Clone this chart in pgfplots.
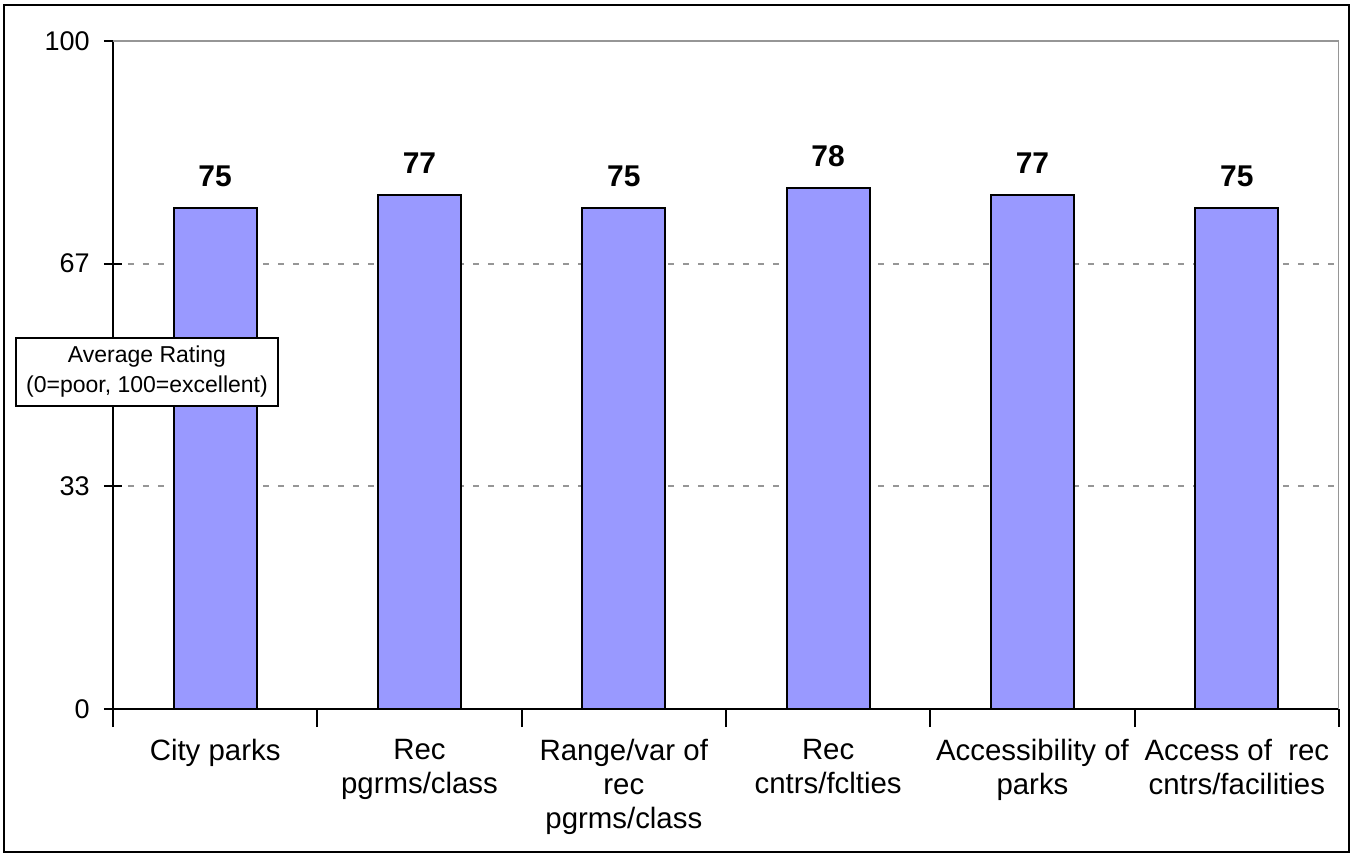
\documentclass[border=0pt]{standalone}
\usepackage{fontspec}
\setmainfont{Liberation Sans}
\usepackage{pgfplots}
\pgfplotsset{compat=1.18}
\definecolor{barblue}{RGB}{153,153,255}
\definecolor{gridgray}{RGB}{150,150,150}
\begin{document}
\begin{tikzpicture}[x=0.5pt,y=0.5pt]
\useasboundingbox (0,0) rectangle (1356,857);
\draw[line width=1pt] (4,5) rectangle (1349,852);
\begin{axis}[
  at={(56.5pt,74pt)}, anchor=south west,
  scale only axis, width=613pt, height=334pt,
  xmin=-0.5, xmax=5.5, ymin=0, ymax=100,
  axis x line*=bottom, axis y line*=left,
  axis line style={line width=1pt, -},
  ytick={0,33.333,66.667,100}, yticklabels={0,33,67,100},
  xtick={0,...,5},
  xticklabels={City parks, Rec\\pgrms/class, Range/var of\\rec\\pgrms/class,
    Rec\\cntrs/fclties, Accessibility of\\parks, Access of\ \ rec\\cntrs/facilities},
  minor xtick={-0.5,0.5,...,5.5},
  tick align=center, major tick length=9pt, minor tick length=9pt,
  major x tick style={draw=none},
  minor x tick style={black, line width=1pt},
  major y tick style={black, line width=1pt},
  ymajorgrids,
  major grid style={gridgray, dash pattern=on 3pt off 4.5pt, line width=1pt},
  yticklabel style={font=\fontsize{13.5}{15}\selectfont, inner sep=0pt, xshift=-7pt},
  xticklabel style={font=\fontsize{14.7}{17}\selectfont, align=center, inner sep=0pt, yshift=-6pt},
  /pgf/number format/assume math mode=true,
  ybar, bar width=41.5pt,
  nodes near coords,
  every node near coord/.append style={font=\bfseries\fontsize{15}{17}\selectfont, inner sep=0pt, yshift=10pt},
]
\addplot[fill=barblue, draw=black, line width=1pt] coordinates {
  (0,75) (1,77) (2,75) (3,78) (4,77) (5,75)
};
\draw[gridgray, line width=1.2pt] (rel axis cs:0,1) -- (rel axis cs:1,1) -- (rel axis cs:1,0);
\end{axis}
\node[draw, fill=white, line width=1pt, align=center, inner sep=0pt,
  font=\fontsize{11.5}{15}\selectfont, minimum width=131pt, minimum height=34pt]
  at (147,485) {Average Rating\\(0=poor, 100=excellent)};
\end{tikzpicture}
\end{document}
